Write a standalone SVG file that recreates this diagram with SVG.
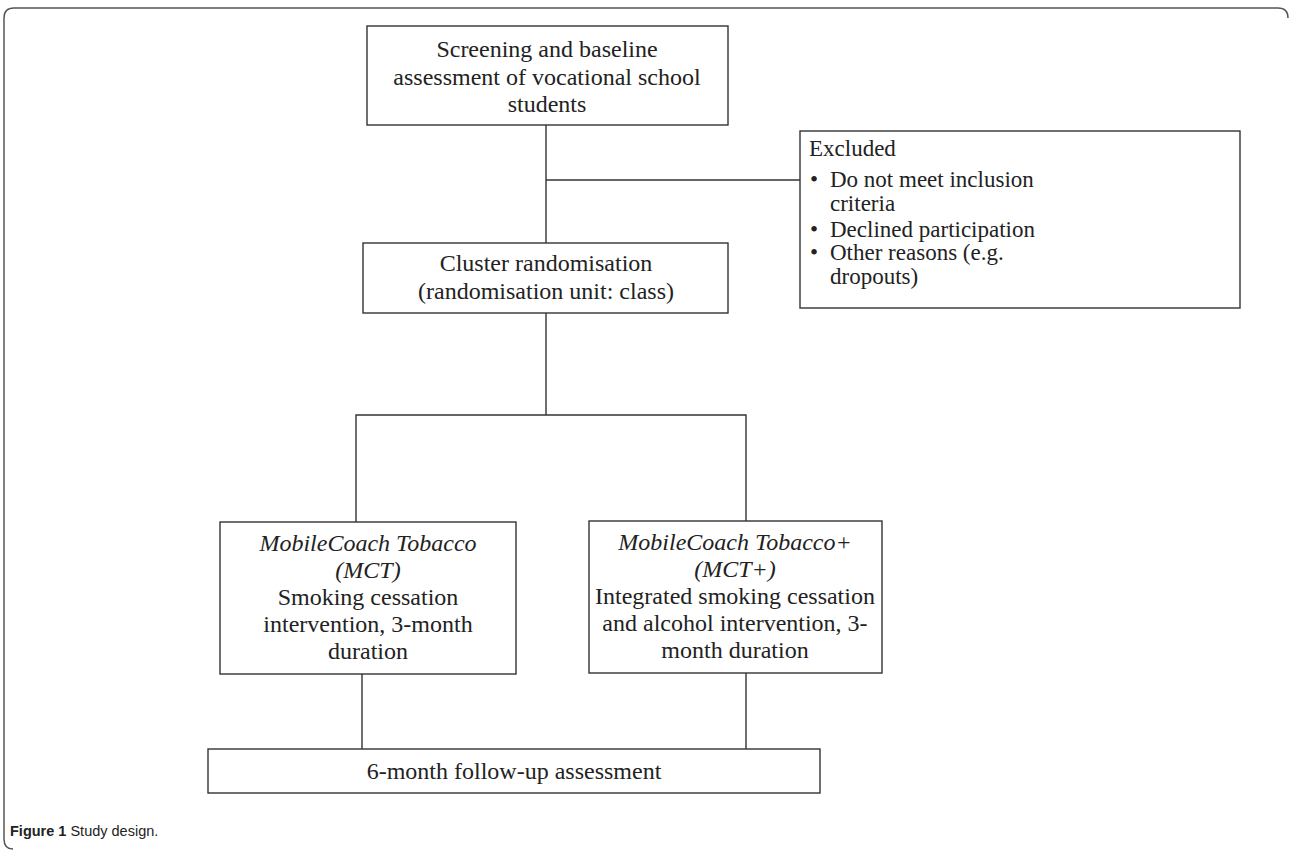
<svg xmlns="http://www.w3.org/2000/svg" width="1290" height="850" viewBox="0 0 1290 850">
<style>
.box{fill:#fff;stroke:#333;stroke-width:1.4}
.ln{fill:none;stroke:#333;stroke-width:1.4}
.t{font-family:"Liberation Serif","Times New Roman",serif;font-size:24px;fill:#222;text-anchor:middle}
.e{font-family:"Liberation Serif","Times New Roman",serif;font-size:23px;fill:#222}
.i{font-style:italic}
.cap{font-family:"Liberation Sans",Arial,sans-serif;font-size:14.5px;fill:#222}
</style>
<rect width="1290" height="850" fill="#fff"/>
<path d="M1288 18 Q1288 8 1278 8 H14 Q4 8 4 18 V839 Q4 849 13 849" fill="none" stroke="#555" stroke-width="1.5"/>
<g id="connectors">
<line class="ln" x1="546" y1="125" x2="546" y2="243"/>
<line class="ln" x1="546" y1="180" x2="800" y2="180"/>
<line class="ln" x1="546" y1="313" x2="546" y2="415"/>
<polyline class="ln" points="356,522 356,415 746,415 746,521"/>
<line class="ln" x1="362" y1="674" x2="362" y2="749"/>
<line class="ln" x1="746" y1="673" x2="746" y2="749"/>
</g>
<g id="screening">
<rect class="box" x="367" y="26" width="361" height="99"/>
<text class="t" x="547" y="57">Screening and baseline</text>
<text class="t" x="547" y="85">assessment of vocational school</text>
<text class="t" x="547" y="112">students</text>
</g>
<g id="excluded">
<rect class="box" x="800" y="131" width="440" height="177"/>
<text class="e" x="809" y="156">Excluded</text>
<text class="e" x="810" y="187">•</text><text class="e" x="830" y="187">Do not meet inclusion</text>
<text class="e" x="830" y="211">criteria</text>
<text class="e" x="810" y="237">•</text><text class="e" x="830" y="237">Declined participation</text>
<text class="e" x="810" y="260">•</text><text class="e" x="830" y="260">Other reasons (e.g.</text>
<text class="e" x="830" y="284">dropouts)</text>
</g>
<g id="cluster">
<rect class="box" x="363" y="243" width="365" height="70"/>
<text class="t" x="546" y="271">Cluster randomisation</text>
<text class="t" x="546" y="299">(randomisation unit: class)</text>
</g>
<g id="mct">
<rect class="box" x="220" y="522" width="296" height="152"/>
<text class="t i" x="368" y="551">MobileCoach Tobacco</text>
<text class="t i" x="368" y="578">(MCT)</text>
<text class="t" x="368" y="605">Smoking cessation</text>
<text class="t" x="368" y="632">intervention, 3-month</text>
<text class="t" x="368" y="659">duration</text>
</g>
<g id="mctplus">
<rect class="box" x="589" y="521" width="293" height="152"/>
<text class="t i" x="735" y="550">MobileCoach Tobacco+</text>
<text class="t i" x="735" y="577">(MCT+)</text>
<text class="t" x="735" y="604">Integrated smoking cessation</text>
<text class="t" x="735" y="631">and alcohol intervention, 3-</text>
<text class="t" x="735" y="658">month duration</text>
</g>
<g id="followup">
<rect class="box" x="208" y="749" width="612" height="44"/>
<text class="t" x="514" y="779">6-month follow-up assessment</text>
</g>
<text class="cap" x="10" y="836"><tspan font-weight="bold">Figure 1</tspan> Study design.</text>
</svg>
